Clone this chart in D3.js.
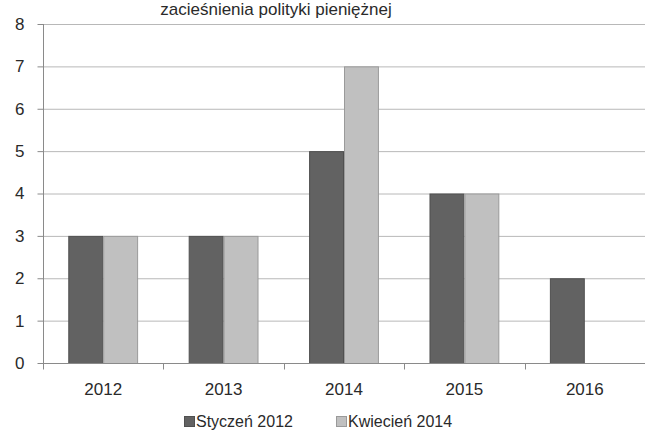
<!DOCTYPE html>
<html>
<head>
<meta charset="utf-8">
<script src="https://cdn.jsdelivr.net/npm/d3@7"></script>
<style>
  body { margin: 0; background: #fff; }
  text { font-family: "Liberation Sans", Arial, sans-serif; fill: #2a2a2a; }
</style>
</head>
<body>
<div id="chart"></div>
<script>
const years = ["2012", "2013", "2014", "2015", "2016"];
const seriesNames = ["Styczeń 2012", "Kwiecień 2014"];
const styczen2012 = [3, 3, 5, 4, 2];
const kwiecien2014 = [3, 3, 7, 4, null];
const yTicks = [0, 1, 2, 3, 4, 5, 6, 7, 8];
const titleText = "zacieśnienia polityki pieniężnej";

const W = 645, H = 432;
const margin = {top: 24, right: 0, bottom: 69, left: 43};
const width = W - margin.left - margin.right,
      height = H - margin.top - margin.bottom;

const colors = ["#626262", "#c0c0c0"];
const strokes = ["#505050", "#9a9a9a"];

const svg = d3.select("#chart").append("svg")
    .attr("width", W).attr("height", H);

// title (only its last line is visible in the picture)
svg.append("text")
    .attr("x", 276).attr("y", 15)
    .attr("text-anchor", "middle")
    .style("font-size", "17px")
    .text(titleText);

const g = svg.append("g").attr("transform", `translate(${margin.left},${margin.top})`);

const x = d3.scaleBand().domain(years).range([0, width]).paddingInner(0.42).paddingOuter(0.21);
const x1 = d3.scaleBand().domain(seriesNames).range([0, x.bandwidth()]);
const y = d3.scaleLinear().domain([0, 8]).range([height, 0]);

// grid
g.selectAll(".grid").data(yTicks).join("line")
    .attr("x1", 0).attr("x2", width)
    .attr("y1", d => y(d) + 0.5).attr("y2", d => y(d) + 0.5)
    .attr("stroke", "#b8b8b8").attr("stroke-width", 1);

// bars
const rows = years.map((yr, i) => ({year: yr, vals: [styczen2012[i], kwiecien2014[i]]}));
const grp = g.selectAll(".grp").data(rows).join("g")
    .attr("transform", d => `translate(${x(d.year)},0)`);
grp.selectAll("rect")
    .data(d => d.vals.map((v, k) => ({k, v})).filter(e => e.v != null))
    .join("rect")
    .attr("x", d => x1(seriesNames[d.k]) + 0.5)
    .attr("y", d => y(d.v) + 0.5)
    .attr("width", x1.bandwidth() - 1)
    .attr("height", d => y(0) - y(d.v))
    .attr("fill", d => colors[d.k])
    .attr("stroke", d => strokes[d.k]);

// y axis
const yAxis = g.append("g").attr("transform", "translate(0.5,0)")
    .call(d3.axisLeft(y).tickValues(yTicks).tickSize(6).tickPadding(13).tickFormat(d3.format("d")));
yAxis.select(".domain").attr("stroke", "#8a8a8a").attr("d", `M0,0V${height + 6}`);
yAxis.selectAll(".tick line").attr("stroke", "#8a8a8a");
yAxis.selectAll("text").style("font-size", "17px").attr("fill", "#2a2a2a")
    .attr("font-family", "Liberation Sans, Arial, sans-serif");

// x axis with tick marks on category boundaries
const xAxis = g.append("g").attr("transform", `translate(0,${height + 0.5})`);
xAxis.append("line").attr("x1", 0).attr("x2", width).attr("stroke", "#8a8a8a");
const step = x.step();
const x0 = x(years[0]) - x.paddingOuter() * step;
xAxis.selectAll(".xt").data(d3.range(years.length + 1)).join("line")
    .attr("x1", i => Math.round(x0 + i * step) + 0.5)
    .attr("x2", i => Math.round(x0 + i * step) + 0.5)
    .attr("y1", 0).attr("y2", 6)
    .attr("stroke", "#8a8a8a");
xAxis.selectAll(".xl").data(years).join("text")
    .attr("x", d => x(d) + x.bandwidth() / 2)
    .attr("y", 31.5)
    .attr("text-anchor", "middle")
    .style("font-size", "17px")
    .text(d => d);

// legend
const legend = svg.append("g").attr("transform", `translate(0,${H - 5})`);
const legX = [184, 336];
seriesNames.forEach((n, k) => {
  legend.append("rect").attr("x", legX[k] + 0.5).attr("y", -10.5).attr("width", 10).attr("height", 10)
      .attr("fill", colors[k]).attr("stroke", strokes[k]);
  legend.append("text").attr("x", legX[k] + 12).attr("y", 0)
      .style("font-size", "16px").text(n);
});
</script>
</body>
</html>
